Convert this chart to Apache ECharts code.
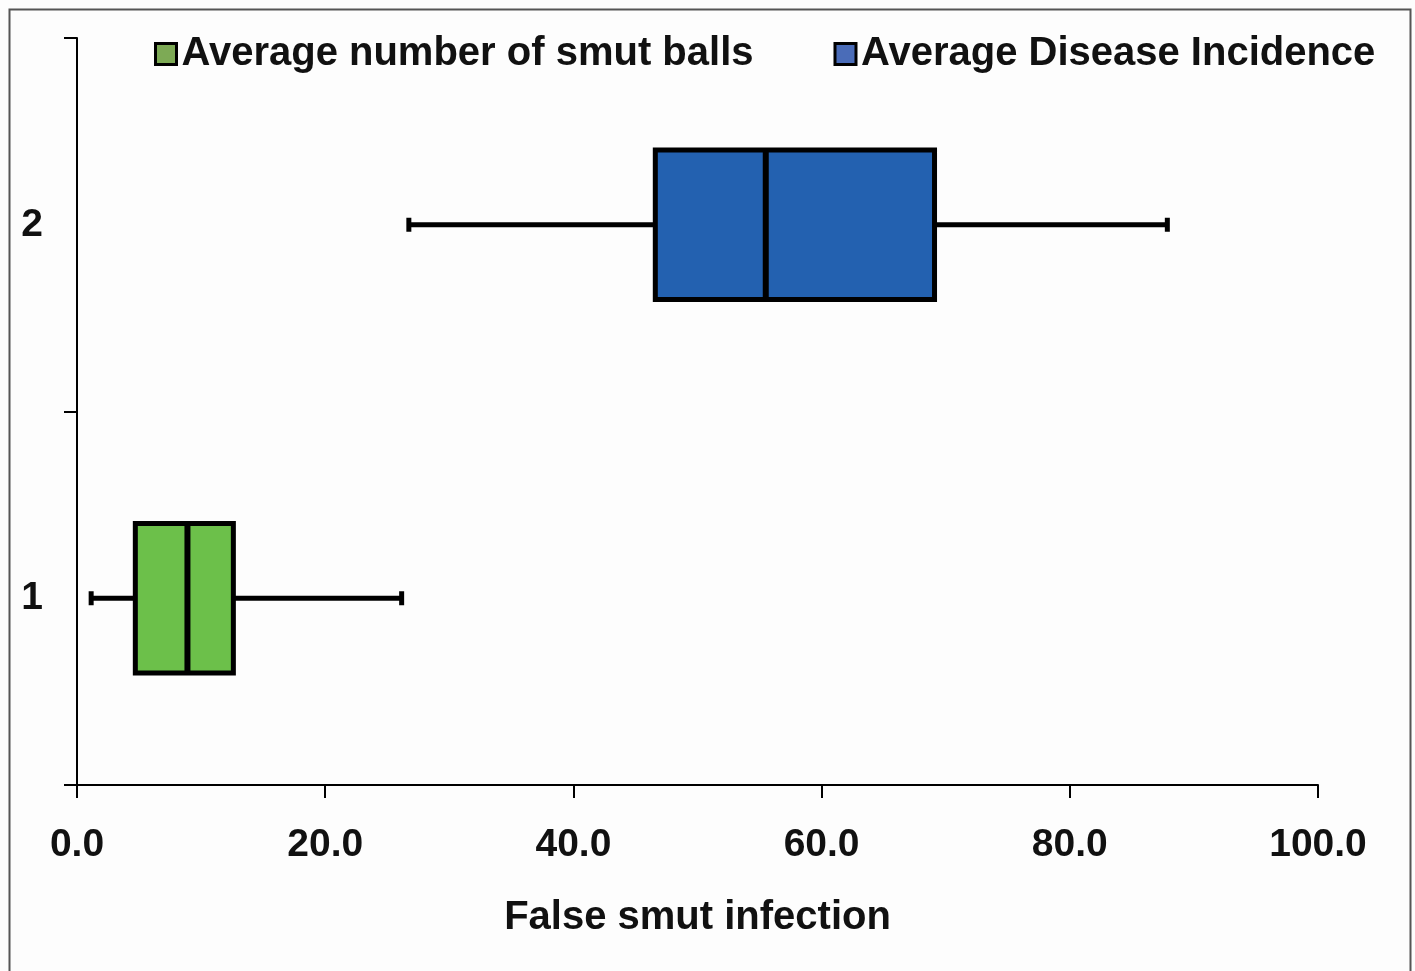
<!DOCTYPE html>
<html>
<head>
<meta charset="utf-8">
<script src="https://cdn.jsdelivr.net/npm/echarts@6/dist/echarts.min.js"></script>
<style>
  html, body { margin: 0; padding: 0; background: #fdfdfd; }
  #chart { width: 1415px; height: 971px; }
</style>
</head>
<body>
<div id="chart"></div>
<script>
  // categories on the y axis (bottom to top)
  const categories = ['1', '2']
  const xTicks = [0, 20, 40, 60, 80, 100]

  // [min, q1, median, q3, max]
  const smutBalls = [1.1, 4.7, 8.9, 12.6, 26.2]
  const diseaseIncidence = [26.7, 46.6, 55.5, 69.1, 87.9]

  const seriesNames = ['Average number of smut balls', 'Average Disease Incidence']
  const boxColors = ['#6cc04a', '#2361b0']
  const legendColors = ['#7daa55', '#4a6cb8']

  const font = 'Liberation Sans'

  // draws one horizontal box with whiskers using the axis scales
  function renderBox(params, api) {
    const cat = api.value(0)
    const vals = [api.value(1), api.value(2), api.value(3), api.value(4), api.value(5)]
    const pts = vals.map(v => api.coord([v, cat]))
    const band = api.size([0, 1])[1]
    const h = band * 0.4
    const cy = pts[0][1]
    const color = api.visual('color')
    const lw = 5
    const capH = 14
    return {
      type: 'group',
      children: [
        { type: 'line', shape: { x1: pts[0][0], y1: cy, x2: pts[1][0], y2: cy }, style: { stroke: '#000', lineWidth: lw } },
        { type: 'line', shape: { x1: pts[3][0], y1: cy, x2: pts[4][0], y2: cy }, style: { stroke: '#000', lineWidth: lw } },
        { type: 'rect', shape: { x: pts[0][0] - 2, y: cy - capH / 2, width: 5, height: capH }, style: { fill: '#000' } },
        { type: 'rect', shape: { x: pts[4][0] - 3, y: cy - capH / 2, width: 5, height: capH }, style: { fill: '#000' } },
        { type: 'rect', shape: { x: pts[1][0], y: cy - h / 2, width: pts[3][0] - pts[1][0], height: h },
          style: { fill: color, stroke: '#000', lineWidth: 5 } },
        { type: 'line', shape: { x1: pts[2][0], y1: cy - h / 2, x2: pts[2][0], y2: cy + h / 2 }, style: { stroke: '#000', lineWidth: 6 } }
      ]
    }
  }

  const myChart = echarts.init(document.getElementById('chart'))

  myChart.setOption({
    backgroundColor: '#fdfdfd',
    animation: false,
    textStyle: { fontFamily: font },
    graphic: [{
      type: 'rect',
      left: 7, top: 7,
      shape: { width: 1401, height: 990 },
      style: { fill: 'none', stroke: '#555', lineWidth: 2 },
      z: 100
    }],
    legend: {
      left: 149,
      top: 29,
      icon: 'rect',
      itemWidth: 21,
      itemHeight: 21,
      itemGap: 80,
      textStyle: { fontFamily: font, fontWeight: 'bold', fontSize: 40, color: '#111' },
      data: seriesNames.map((n, i) => ({
        name: n,
        itemStyle: { color: legendColors[i], borderColor: '#000', borderWidth: 3 }
      }))
    },
    grid: { left: 77, right: 97, top: 38, bottom: 186 },
    xAxis: {
      type: 'value',
      min: xTicks[0],
      max: xTicks[xTicks.length - 1],
      interval: 20,
      name: 'False smut infection',
      nameLocation: 'middle',
      nameGap: 113,
      nameTextStyle: { fontFamily: font, fontWeight: 'bold', fontSize: 40, color: '#111' },
      axisLine: { show: true, lineStyle: { color: '#000', width: 2 } },
      axisTick: { show: true, length: 13, lineStyle: { color: '#000', width: 2 } },
      axisLabel: {
        margin: 41,
        fontFamily: font, fontWeight: 'bold', fontSize: 39, color: '#111',
        formatter: v => v.toFixed(1)
      },
      splitLine: { show: false }
    },
    yAxis: {
      type: 'category',
      data: categories,
      boundaryGap: true,
      axisLine: { show: true, lineStyle: { color: '#000', width: 2 } },
      axisTick: { show: true, length: 13, lineStyle: { color: '#000', width: 2 } },
      axisLabel: { margin: 34, fontFamily: font, fontWeight: 'bold', fontSize: 39, color: '#111' },
      splitLine: { show: false }
    },
    series: [
      {
        name: seriesNames[0],
        type: 'custom',
        renderItem: renderBox,
        itemStyle: { color: boxColors[0] },
        encode: { x: [1, 2, 3, 4, 5], y: 0 },
        data: [[0].concat(smutBalls)]
      },
      {
        name: seriesNames[1],
        type: 'custom',
        renderItem: renderBox,
        itemStyle: { color: boxColors[1] },
        encode: { x: [1, 2, 3, 4, 5], y: 0 },
        data: [[1].concat(diseaseIncidence)]
      }
    ]
  })

  window.addEventListener('resize', () => {
    myChart && myChart.resize()
  })
</script>
</body>
</html>
